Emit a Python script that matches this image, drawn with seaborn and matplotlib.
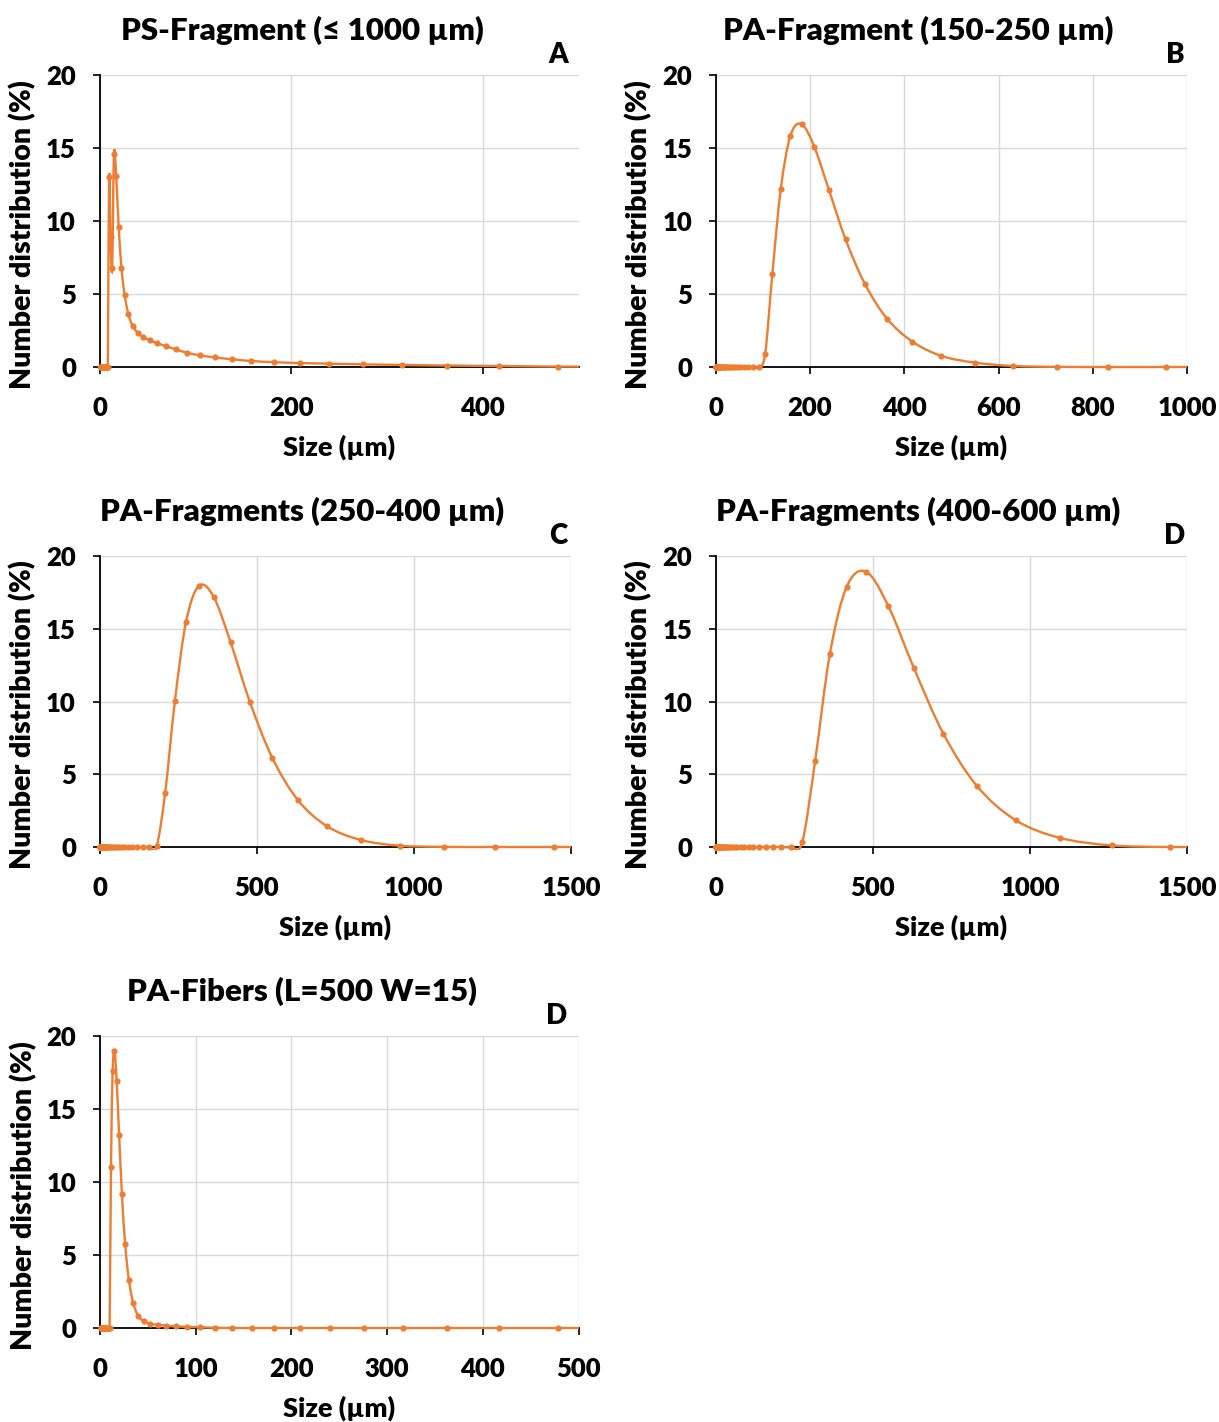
import numpy as np
import matplotlib
matplotlib.use("Agg")
import matplotlib.pyplot as plt
import seaborn as sns
from matplotlib.path import Path
from matplotlib.patches import PathPatch, Rectangle

# Size classes (µm) of the laser diffraction bins
size_um = [1.10, 1.26, 1.45, 1.66, 1.91, 2.19, 2.51, 2.88, 3.31, 3.80,
           4.37, 5.01, 5.75, 6.61, 7.59, 8.71, 10.0, 11.5, 13.2, 15.1,
           17.4, 20.0, 22.9, 26.3, 30.2, 34.7, 39.8, 45.7, 52.5, 60.3,
           69.2, 79.4, 91.2, 104.7, 120.2, 138.0, 158.5, 182.0, 208.9, 239.9,
           275.4, 316.2, 363.1, 416.9, 478.6, 549.5, 631.0, 724.4, 831.8, 955.0,
           1096, 1259, 1445, 1660]

# Number distribution (%) per panel
ps_fragment = [0]*16 + [13.0, 8.9, 6.75, 14.6, 13.1, 9.6, 6.8, 4.9, 3.6, 2.8,
                        2.35, 2.05, 1.83, 1.62, 1.44, 1.21, 0.98, 0.80, 0.66, 0.53,
                        0.41, 0.33, 0.27, 0.23, 0.18, 0.14, 0.10, 0.07, 0.03, 0.02]
pa_150_250 = [0]*33 + [0.87, 6.4, 12.2, 15.85, 16.64, 15.1, 12.15, 8.74, 5.70, 3.32,
                       1.74, 0.76, 0.30, 0.07, 0.01, 0, 0, 0]
pa_250_400 = [0]*37 + [0.07, 3.73, 10.03, 15.48, 17.95, 17.2, 14.08, 9.96, 6.14, 3.23,
                       1.42, 0.48, 0.09, 0.01, 0, 0, 0]
pa_400_600 = [0]*40 + [0.34, 5.9, 13.26, 17.9, 18.92, 16.54, 12.27, 7.78, 4.17, 1.83,
                       0.62, 0.11, 0, 0]
pa_fibers = [0]*17 + [11.05, 17.6, 19.0, 16.95, 13.2, 9.15, 5.73, 3.28, 1.72, 0.85,
                      0.46, 0.29, 0.22, 0.16, 0.11, 0.08, 0.05, 0.02] + [0]*11

titles = ["PS-Fragment (\u2264 1000 \u00b5m)", "PA-Fragment (150-250 \u00b5m)",
          "PA-Fragments (250-400 \u00b5m)", "PA-Fragments (400-600 \u00b5m)",
          "PA-Fibers (L=500 W=15)"]
letters = ["A", "B", "C", "D", "D"]
x_max = [500, 1000, 1500, 1500, 500]
x_step = [200, 200, 500, 500, 100]

sns.set_theme(style="ticks")
plt.rcParams["font.family"] = ["Lato", "DejaVu Sans"]
plt.rcParams["font.weight"] = "heavy"
plt.rcParams["axes.labelweight"] = "heavy"

ORANGE = "#ED7D31"
W, H = 1219, 1422


def box(l, t, r, b):
    return [l / W, 1 - b / H, (r - l) / W, (b - t) / H]


def smooth_path(x, y):
    # Excel-like smoothed line: cubic Bezier through the points
    pts = np.column_stack([x, y])
    n = len(pts)
    verts, codes = [pts[0]], [Path.MOVETO]
    for i in range(n - 1):
        p0 = pts[i - 1] if i > 0 else pts[i]
        p1, p2 = pts[i], pts[i + 1]
        p3 = pts[i + 2] if i + 2 < n else pts[i + 1]
        verts += [p1 + (p2 - p0) / 6, p2 - (p3 - p1) / 6, p2]
        codes += [Path.CURVE4] * 3
    return Path(verts, codes)


fig = plt.figure(figsize=(W / 100, H / 100), dpi=100)

series = [ps_fragment, pa_150_250, pa_250_400, pa_400_600, pa_fibers]
# axes boxes in pixels: left, top, right, bottom
boxes = [(99.5, 75, 578.5, 367), (715.7, 75, 1187.3, 367),
         (99.5, 556, 571, 847), (715.7, 556, 1187.3, 847),
         (100, 1036, 578.5, 1328)]
title_xy = [(302, 39.5), (918, 39.5), (302, 520.5), (918, 520.5), (302, 1000.5)]
letter_xy = [(558, 63), (1175, 63), (558, 544), (1175, 544), (557, 1024)]

for i, vals in enumerate(series):
    l, t, r, b = boxes[i]
    ax = fig.add_axes(box(l, t, r, b))
    x = np.array(size_um[:len(vals)])
    y = np.array(vals, dtype=float)

    clip = Rectangle((-0.03, -0.012), 1.03, 1.04, transform=ax.transAxes)
    line = PathPatch(smooth_path(x, y), fc="none", ec=ORANGE, lw=1.7, zorder=3)
    ax.add_patch(line)
    line.set_clip_path(clip)
    sns.scatterplot(x=x, y=y, ax=ax, color=ORANGE, s=20, linewidth=0, zorder=4)
    ax.collections[-1].set_clip_path(clip)

    ax.set_xlim(0, x_max[i])
    ax.set_ylim(0, 20)
    ax.set_xticks(np.arange(0, x_max[i] + 1, x_step[i]))
    ax.set_yticks([0, 5, 10, 15, 20])
    ax.set_axisbelow(True)
    ax.grid(True, color="#d9d9d9", lw=1.0)
    for s in ["top", "right"]:
        ax.spines[s].set_visible(False)
    for s in ["left", "bottom"]:
        ax.spines[s].set_color("black")
        ax.spines[s].set_linewidth(1.3)
    ax.tick_params(direction="out", length=5, width=1.2, color="black",
                   labelsize=18.5, labelcolor="black")
    ax.tick_params(axis="y", pad=12)
    ax.tick_params(axis="x", pad=16)

    ax.set_xlabel("Size (\u00b5m)", fontsize=19.5, labelpad=10, color="black")
    ax.set_ylabel("Number distribution (%)", fontsize=20.5, color="black")
    ax.yaxis.set_label_coords(-63 / (r - l), 0.455)

    tx, ty = title_xy[i]
    fig.text(tx / W, 1 - ty / H, titles[i], ha="center", va="baseline",
             fontsize=22.5, fontweight="heavy", color="black")
    lx, ly = letter_xy[i]
    fig.text(lx / W, 1 - ly / H, letters[i], ha="center", va="baseline",
             fontsize=20, fontweight="heavy", color="black")

fig.savefig("out.png", dpi=100)
